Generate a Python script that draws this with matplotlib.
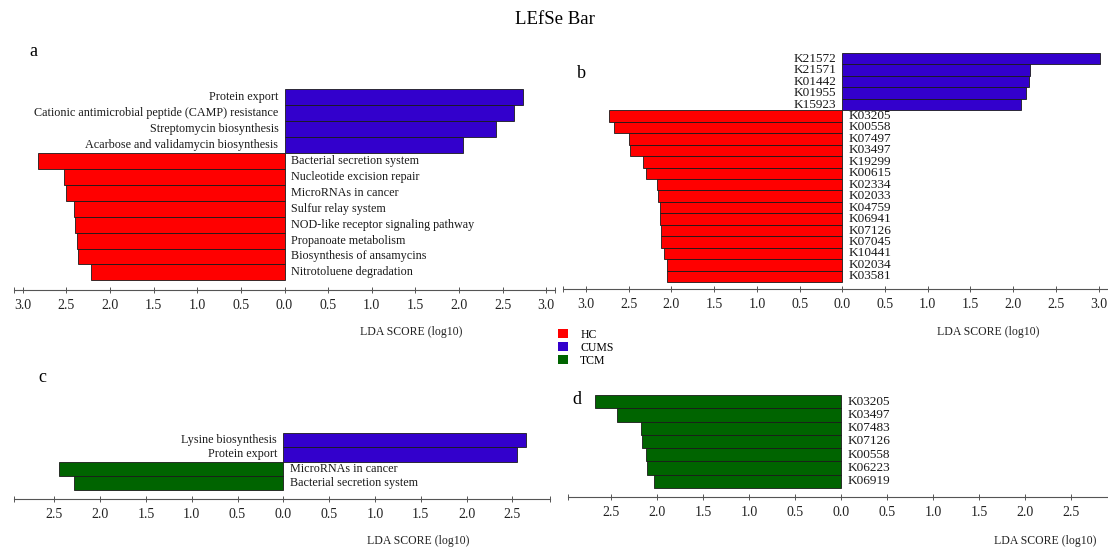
import numpy as np
import matplotlib
matplotlib.use("Agg")
import matplotlib.pyplot as plt
from matplotlib.patches import Patch
from matplotlib.ticker import FuncFormatter

plt.rcParams['font.family'] = ['Liberation Serif', 'DejaVu Serif']

# ---- data (LDA scores, log10) ----
a_cums_names = ["Protein export", "Cationic antimicrobial peptide (CAMP) resistance",
                "Streptomycin biosynthesis", "Acarbose and validamycin biosynthesis"]
a_cums_lda = [2.73, 2.63, 2.42, 2.05]
a_hc_names = ["Bacterial secretion system", "Nucleotide excision repair", "MicroRNAs in cancer",
              "Sulfur relay system", "NOD-like receptor signaling pathway", "Propanoate metabolism",
              "Biosynthesis of ansamycins", "Nitrotoluene degradation"]
a_hc_lda = [2.83, 2.53, 2.50, 2.41, 2.40, 2.38, 2.37, 2.22]

b_cums_names = ["K21572", "K21571", "K01442", "K01955", "K15923"]
b_cums_lda = [3.02, 2.20, 2.19, 2.15, 2.09]
b_hc_names = ["K03205", "K00558", "K07497", "K03497", "K19299", "K00615", "K02334", "K02033",
              "K04759", "K06941", "K07126", "K07045", "K10441", "K02034", "K03581"]
b_hc_lda = [2.73, 2.67, 2.50, 2.49, 2.33, 2.30, 2.17, 2.16, 2.13, 2.13, 2.12, 2.12, 2.09, 2.05, 2.05]

c_cums_names = ["Lysine biosynthesis", "Protein export"]
c_cums_lda = [2.65, 2.55]
c_tcm_names = ["MicroRNAs in cancer", "Bacterial secretion system"]
c_tcm_lda = [2.45, 2.29]

d_tcm_names = ["K03205", "K03497", "K07483", "K07126", "K00558", "K06223", "K06919"]
d_tcm_lda = [2.68, 2.44, 2.18, 2.17, 2.12, 2.11, 2.04]

groups = ["HC", "CUMS", "TCM"]
colors = {"HC": "#ff0000", "CUMS": "#3300cc", "TCM": "#006400"}

W, H = 1108, 547
fig = plt.figure(figsize=(W / 100, H / 100), dpi=100)


def px_axes(left, top, right, bottom):
    return fig.add_axes([left / W, 1 - bottom / H, (right - left) / W, (bottom - top) / H])


def panel(ax, pos_names, pos_vals, pos_col, neg_names, neg_vals, neg_col,
          xlim, tmax, gap, fs):
    names = list(pos_names) + list(neg_names)
    vals = list(pos_vals) + [-v for v in neg_vals]
    cols = [pos_col] * len(pos_names) + [neg_col] * len(neg_names)
    n = len(names)
    ys = np.arange(n)[::-1]
    ax.barh(ys, vals, height=1.0, color=cols, edgecolor="#1a1a1a", linewidth=0.6)
    for y, v, name in zip(ys, vals, names):
        if v > 0:
            ax.text(-0.07, y, name, ha="right", va="center", fontsize=fs, color="#1a1a1a")
        else:
            ax.text(0.07, y, name, ha="left", va="center", fontsize=fs, color="#1a1a1a")
    ax.set_xlim(*xlim)
    ax.set_ylim(-0.5 - gap, n - 0.5)
    ax.set_yticks([])
    for s in ("top", "left", "right"):
        ax.spines[s].set_visible(False)
    ax.spines["bottom"].set_color("#555555")
    ax.spines["bottom"].set_linewidth(0.8)
    ax.set_xticks(np.arange(-tmax, tmax + 0.01, 0.5))
    ax.set_xticks(list(xlim), minor=True)
    ax.xaxis.set_major_formatter(FuncFormatter(lambda x, p: f"{abs(x):.1f}"))
    ax.tick_params(axis="x", which="both", direction="inout", length=5, width=0.7,
                   color="#555555", labelsize=10, pad=4, labelcolor="#222222")
    ax.patch.set_visible(False)


ax_a = px_axes(14, 89, 555, 290)
panel(ax_a, a_cums_names, a_cums_lda, colors["CUMS"], a_hc_names, a_hc_lda, colors["HC"],
      (-3.10, 3.10), 3.0, 0.6, 8.7)

ax_b = px_axes(563, 53, 1108, 289)
panel(ax_b, b_cums_names, b_cums_lda, colors["CUMS"], b_hc_names, b_hc_lda, colors["HC"],
      (-3.27, 3.11), 3.0, 0.6, 9.5)

ax_c = px_axes(14, 433, 550, 499)
panel(ax_c, c_cums_names, c_cums_lda, colors["CUMS"], c_tcm_names, c_tcm_lda, colors["TCM"],
      (-2.94, 2.91), 2.5, 0.62, 8.7)

ax_d = px_axes(568, 395, 1108, 497)
panel(ax_d, [], [], colors["CUMS"], d_tcm_names, d_tcm_lda, colors["TCM"],
      (-2.97, 2.90), 2.5, 0.68, 9.5)

# axis titles
for x, y in [(411, 332), (988, 332), (418, 541), (1045, 541)]:
    fig.text(x / W, 1 - y / H, "LDA SCORE (log10)", ha="center", va="center", fontsize=8.5,
             color="#222222")

# panel letters
for letter, x, y in [("a", 33, 52), ("b", 581, 73), ("c", 42, 377), ("d", 577, 400)]:
    fig.text(x / W, 1 - y / H, letter, ha="center", va="center", fontsize=13)

fig.text(555 / W, 1 - 20 / H, "LEfSe Bar", ha="center", va="center", fontsize=13.5)

handles = [Patch(facecolor=colors[g], edgecolor="none") for g in groups]
fig.legend(handles, groups, loc="upper left", bbox_to_anchor=(553 / W, 1 - 324 / H),
           frameon=False, handlelength=0.9, handleheight=0.8, handletextpad=1.0,
           labelspacing=0.1, fontsize=8.5, borderaxespad=0)

fig.savefig("out.png", dpi=100)
